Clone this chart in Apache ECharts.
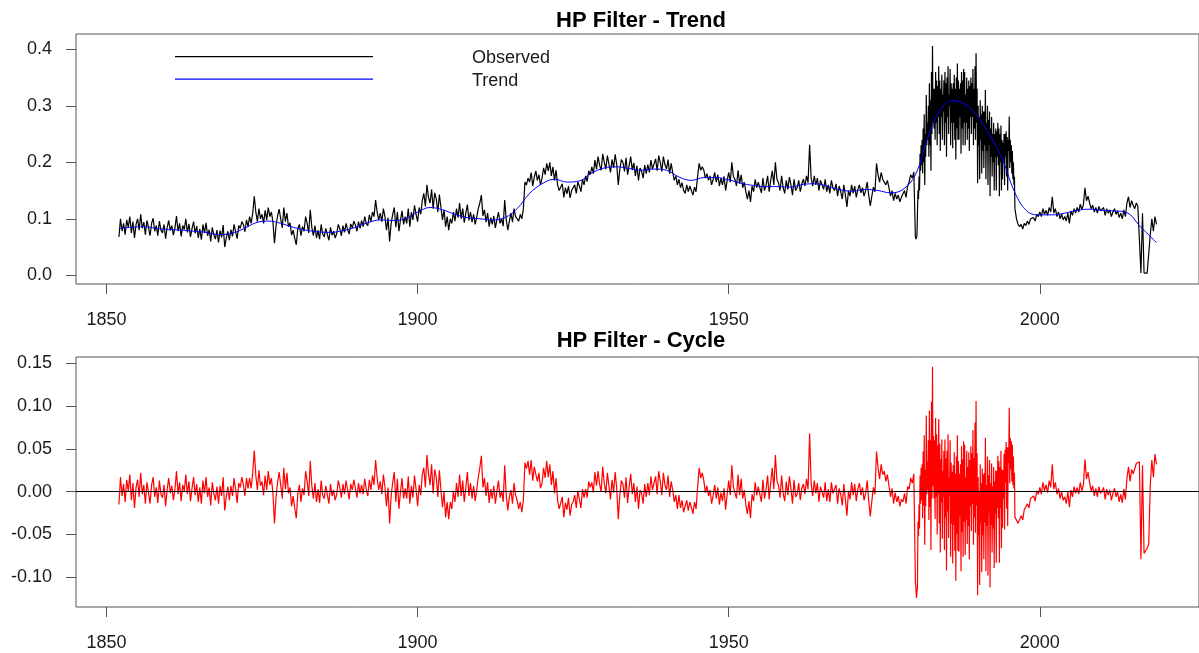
<!DOCTYPE html>
<html>
<head>
<meta charset="utf-8">
<title>HP Filter</title>
<script src="https://cdn.jsdelivr.net/npm/echarts@6/dist/echarts.min.js"></script>
<style>
  html, body { margin: 0; padding: 0; background: #fff; }
  #chart { width: 1199px; height: 653px; }
</style>
</head>
<body>
<div id="chart"></div>
<script>
// quarterly 1852-1979, monthly 1980-1995, quarterly 1996-2018
var earlyStart = 1852, earlyStep = 0.25
var midStart = 1980, midStep = 1 / 12
var lateStart = 1996, lateStep = 0.25

var observedEarly = [
  .068, .100, .078, .092, .072, .098, .085, .104, .075, .095, .066, .090,
  .100, .080, .108, .083, .094, .072, .097, .085, .070, .092, .101, .078,
  .088, .070, .096, .080, .075, .090, .065, .085, .097, .079, .088, .071,
  .084, .105, .078, .092, .069, .088, .081, .100, .076, .091, .068, .083,
  .095, .074, .087, .066, .082, .063, .090, .075, .093, .070, .081, .060,
  .085, .072, .064, .080, .058, .079, .067, .089, .050, .066, .078, .062,
  .081, .069, .090, .077, .065, .088, .083, .095, .090, .077, .098, .086,
  .104, .092, .110, .140, .112, .095, .118, .100, .108, .092, .115, .098,
  .120, .104, .112, .094, .057, .088, .105, .117, .100, .084, .120, .095,
  .110, .086, .093, .071, .080, .066, .054, .083, .090, .070, .086, .078,
  .104, .092, .075, .116, .085, .070, .088, .066, .080, .064, .090, .073,
  .068, .083, .072, .062, .085, .071, .078, .066, .074, .090, .082, .070,
  .088, .076, .092, .081, .073, .091, .084, .096, .089, .078, .095, .083,
  .097, .086, .104, .092, .088, .107, .095, .112, .104, .133, .112, .098,
  .110, .095, .118, .104, .080, .102, .060, .092, .108, .120, .085, .112,
  .078, .098, .114, .090, .104, .092, .118, .086, .112, .098, .124, .108,
  .095, .120, .108, .132, .145, .122, .160, .138, .128, .152, .118, .146,
  .135, .112, .143, .120, .098, .116, .086, .104, .080, .100, .092, .112,
  .096, .118, .102, .128, .100, .118, .093, .110, .125, .097, .112, .094,
  .108, .090, .103, .118, .128, .142, .105, .116, .094, .110, .086, .102,
  .090, .105, .084, .099, .112, .092, .100, .087, .133, .098, .080, .096,
  .110, .094, .118, .104, .104, .096, .108, .100, .118, .165, .160, .172,
  .165, .182, .158, .174, .185, .168, .178, .160, .172, .190, .178, .198,
  .185, .200, .176, .192, .168, .186, .160, .150, .148, .162, .138, .155,
  .144, .158, .137, .150, .152, .160, .145, .165, .158, .148, .170, .160,
  .176, .166, .185, .178, .192, .180, .204, .188, .210, .195, .186, .215,
  .200, .188, .212, .197, .182, .205, .190, .214, .196, .160, .188, .205,
  .200, .184, .208, .178, .195, .210, .186, .199, .176, .194, .168, .190,
  .184, .172, .195, .180, .196, .182, .204, .188, .190, .206, .185, .212,
  .200, .184, .210, .196, .188, .205, .180, .198, .182, .168, .176, .160,
  .170, .155, .164, .150, .145, .160, .148, .158, .150, .142, .156, .148,
  .175, .198, .186, .192, .186, .172, .180, .168, .176, .160, .170, .182,
  .165, .178, .158, .172, .160, .175, .150, .168, .182, .165, .200, .175,
  .170, .158, .186, .162, .178, .155, .165, .148, .135, .150, .130, .158,
  .148, .170, .155, .165, .162, .146, .172, .150, .160, .176, .148, .168,
  .185, .160, .200, .170, .164, .150, .176, .155, .145, .168, .152, .174,
  .160, .142, .170, .150, .155, .168, .148, .162, .170, .158, .176, .164,
  .231, .172, .158, .176, .160, .172, .150, .168, .165, .152, .170, .148,
  .160, .145, .168, .155, .150, .162, .140, .158, .148, .135, .160, .142,
  .121, .150, .140, .160, .145, .158, .138, .152, .160, .146, .155, .140,
  .150, .165, .142, .123, .140, .156, .148, .198, .178, .165, .182, .170,
  .172, .160, .168, .155, .140, .150, .132, .145, .135, .142, .130, .138,
  .140, .150, .138, .158, .165, .178, .172, .183
]

var observedMid = [
  .068, .064, .066, .070, .072, .150, .135, .175, .150, .215, .185, .230,
  .195, .240, .180, .260, .200, .285, .160, .250, .210, .319, .230, .270,
  .240, .300, .210, .340, .230, .310, .185, .360, .250, .406, .270, .330,
  .260, .330, .240, .360, .270, .345, .230, .335, .280, .370, .250, .345,
  .220, .330, .280, .355, .240, .320, .290, .345, .230, .360, .270, .340,
  .210, .350, .280, .370, .250, .320, .300, .365, .230, .340, .270, .330,
  .225, .340, .270, .355, .240, .330, .205, .350, .260, .375, .240, .345,
  .240, .330, .280, .340, .215, .360, .260, .345, .230, .365, .270, .360,
  .230, .320, .270, .350, .240, .330, .260, .345, .220, .335, .280, .350,
  .250, .340, .280, .365, .230, .330, .260, .370, .240, .393, .270, .330,
  .163, .300, .230, .280, .170, .310, .240, .285, .180, .300, .220, .290,
  .190, .290, .230, .328, .170, .270, .220, .300, .160, .275, .230, .290,
  .140, .260, .210, .280, .175, .250, .200, .270, .150, .250, .210, .260,
  .150, .255, .210, .270, .195, .260, .140, .250, .200, .265, .150, .240,
  .170, .235, .200, .250, .160, .250, .210, .255, .175, .245, .150, .240,
  .220, .281, .190, .240, .200, .230, .180, .220, .170, .200, .160, .175
]

var observedLate = [
  .118, .100, .090, .086, .090, .082, .092, .088, .096, .090, .100, .098,
  .102, .096, .108, .104, .112, .104, .118, .108, .115, .106, .120, .112,
  .139, .110, .118, .104, .112, .100, .108, .098, .104, .096, .110, .092,
  .114, .106, .118, .110, .120, .112, .126, .116, .125, .155, .132, .140,
  .128, .118, .124, .112, .120, .110, .122, .114, .112, .120, .106, .118,
  .110, .116, .104, .112, .118, .108, .114, .102, .110, .100, .116, .104,
  .128, .139, .120, .132, .124, .118, .128, .122, .120, .004, .110, .004,
  .003, .004, .006, .072, .100, .078, .104, .090
]

var trendYears = [
  1852, 1854, 1856, 1858, 1860, 1862, 1864, 1866, 1868, 1870, 1872, 1874, 1876, 1878,
  1880, 1882, 1884, 1886, 1888, 1890, 1892, 1894, 1896, 1898, 1900, 1902, 1904, 1906,
  1908, 1910, 1912, 1914, 1916, 1918, 1920, 1922, 1924, 1926, 1928, 1930, 1932, 1934,
  1936, 1938, 1940, 1942, 1944, 1946, 1948, 1950, 1952, 1954, 1956, 1958, 1960, 1962,
  1964, 1966, 1968, 1970, 1972, 1974, 1976, 1978, 1980, 1982, 1984, 1986, 1988, 1990,
  1992, 1994, 1996, 1998, 2000, 2002, 2004, 2006, 2008, 2010, 2012, 2014, 2016, 2018,
  2018.75
]
var trendValues = [
  .083, .085, .086, .083, .081, .080, .078, .076, .072, .074, .082, .093, .096, .092,
  .085, .080, .077, .076, .079, .085, .093, .098, .097, .100, .112, .120, .116, .108,
  .102, .100, .098, .102, .118, .145, .162, .170, .165, .167, .181, .190, .192, .189,
  .186, .188, .186, .174, .168, .173, .173, .169, .163, .159, .157, .157, .156, .161,
  .162, .157, .151, .149, .152, .150, .146, .152, .178, .243, .293, .309, .303, .281,
  .247, .205, .146, .113, .107, .107, .110, .115, .117, .115, .114, .111, .088, .066,
  .058
]

var cycleEarly = [
  -.015, .017, -.005, .009, -.012, .014, .001, .020, -.010, .010, -.019, .005,
  .014, -.006, .022, -.003, .008, -.014, .011, -.001, -.014, .008, .017, -.006,
  .005, -.013, .013, -.003, -.007, .008, -.017, .003, .016, -.002, .007, -.010,
  .003, .024, -.003, .011, -.011, .008, .001, .020, -.003, .012, -.011, .004,
  .017, -.004, .009, -.012, .005, -.014, .013, -.002, .017, -.006, .005, -.016,
  .011, -.002, -.010, .006, -.014, .007, -.005, .017, -.022, -.006, .006, -.010,
  .007, -.005, .016, .003, -.013, .010, .005, .017, .008, -.005, .016, .004,
  .016, .004, .022, .048, .019, .002, .025, .007, .012, -.004, .019, .002,
  .024, .008, .016, -.002, -.037, -.006, .011, .023, .008, -.008, .028, .003,
  .022, -.002, .005, -.017, -.005, -.019, -.031, -.002, .008, -.012, .004, -.004,
  .024, .012, -.005, .036, .007, -.008, .010, -.012, .003, -.013, .013, -.004,
  -.008, .007, -.004, -.014, .009, -.005, .002, -.010, -.003, .013, .005, -.007,
  .009, -.003, .013, .002, -.009, .009, .002, .014, .004, -.007, .010, -.002,
  .008, -.003, .015, .003, -.005, .014, .002, .019, .008, .037, .016, .002,
  .012, -.003, .020, .006, -.017, .005, -.037, -.005, .011, .023, -.012, .015,
  -.020, .000, .016, -.008, .004, -.008, .018, -.014, .007, -.007, .019, .003,
  -.017, .008, -.004, .020, .028, .005, .043, .021, .008, .032, -.002, .026,
  .017, -.006, .025, .002, -.018, .000, -.030, -.012, -.032, -.012, -.020, .000,
  -.012, .010, -.006, .020, -.005, .013, -.012, .005, .023, -.005, .010, -.008,
  .007, -.011, .002, .017, .028, .042, .005, .016, -.005, .011, -.013, .003,
  -.008, .007, -.014, .001, .013, -.007, .001, -.012, .031, -.004, -.022, -.006,
  .002, -.014, .010, -.004, -.010, -.020, -.012, -.024, -.010, .034, .027, .036,
  .020, .037, .013, .029, .029, .012, .022, .004, .010, .028, .016, .036,
  .017, .032, .008, .024, -.002, .016, -.010, -.020, -.020, -.006, -.030, -.013,
  -.021, -.007, -.028, -.015, -.012, -.004, -.019, .001, -.009, -.019, .003, -.007,
  .003, -.007, .012, .005, .011, -.001, .023, .007, .024, .009, .000, .029,
  .010, -.002, .022, .007, -.009, .014, -.001, .023, .004, -.032, -.004, .013,
  .009, -.007, .017, -.013, .006, .021, -.003, .010, -.012, .006, -.020, .002,
  -.002, -.014, .009, -.006, .010, -.004, .018, .002, .002, .018, -.003, .024,
  .012, -.004, .022, .008, .002, .019, -.006, .012, .002, -.012, -.004, -.020,
  -.004, -.019, -.010, -.024, -.025, -.010, -.022, -.012, -.018, -.026, -.012, -.020,
  .005, .028, .016, .022, .013, -.001, .007, -.005, .002, -.014, -.004, .008,
  -.008, .005, -.015, -.001, -.011, .004, -.021, -.003, .013, -.004, .031, .006,
  .004, -.008, .020, -.004, .015, -.008, .002, -.015, -.026, -.011, -.031, -.003,
  -.011, .011, -.004, .006, .004, -.012, .014, -.008, .003, .019, -.009, .011,
  .028, .003, .043, .013, .007, -.007, .019, -.002, -.011, .012, -.004, .018,
  .004, -.014, .014, -.006, -.003, .010, -.010, .004, .009, -.003, .015, .003,
  .068, .009, -.005, .013, -.002, .010, -.012, .006, .006, -.007, .011, -.011,
  .003, -.012, .011, -.002, -.004, .008, -.014, .004, -.003, -.016, .009, -.009,
  -.028, .001, -.009, .011, -.004, .009, -.011, .003, .010, -.004, .005, -.010,
  -.002, .013, -.010, -.029, -.011, .005, -.003, .047, .028, .015, .032, .020,
  .024, .012, .020, .007, -.006, .004, -.014, -.001, -.012, -.005, -.017, -.009,
  -.012, -.002, -.014, .006, .003, .016, .010, .021
]

var cycleMid = [
  -.105, -.113, -.124, -.117, -.112, -.035, -.052, -.015, -.043, .019, -.014, .028,
  -.010, .032, -.031, .047, -.016, .066, -.062, .026, -.017, .089, -.003, .035,
  .002, .060, -.033, .095, -.018, .060, -.068, .105, -.008, .146, .007, .065,
  -.008, .060, -.032, .086, -.006, .067, -.050, .054, -.003, .085, -.037, .056,
  -.071, .038, -.013, .061, -.055, .024, -.006, .048, -.068, .061, -.030, .039,
  -.092, .048, -.023, .067, -.054, .016, -.005, .060, -.076, .034, -.037, .023,
  -.084, .031, -.039, .046, -.069, .021, -.104, .041, -.049, .066, -.069, .036,
  -.070, .021, -.029, .032, -.093, .053, -.047, .038, -.076, .059, -.035, .055,
  -.074, .017, -.033, .048, -.061, .029, -.040, .046, -.079, .037, -.017, .053,
  -.046, .045, -.014, .072, -.062, .039, -.030, .081, -.048, .106, -.016, .045,
  -.121, .017, -.051, .000, -.109, .032, -.037, .010, -.094, .027, -.051, .020,
  -.079, .022, -.036, .063, -.093, .008, -.040, .041, -.098, .019, -.025, .037,
  -.112, .010, -.039, .033, -.071, .006, -.043, .029, -.089, .012, -.026, .025,
  -.083, .024, -.019, .042, -.031, .036, -.083, .029, -.019, .048, -.066, .026,
  -.042, .025, -.008, .044, -.044, .049, .011, .058, -.020, .052, -.040, .052,
  .034, .098, .010, .063, .026, .059, .012, .055, .008, .041, .004, .022
]

var cycleLate = [
  -.030, -.033, -.037, -.036, -.028, -.033, -.021, -.023, -.014, -.019, -.008, -.010,
  -.005, -.011, .001, -.003, .005, -.003, .011, .001, .008, -.001, .013, .005,
  .032, .003, .011, -.003, .004, -.008, .000, -.010, -.006, -.014, .000, -.018,
  .002, -.006, .006, -.002, .005, -.003, .011, .001, .008, .038, .015, .023,
  .011, .001, .007, -.005, .004, -.006, .006, -.002, -.003, .005, -.009, .003,
  -.004, .002, -.010, -.002, .004, -.006, .000, -.012, -.003, -.013, .003, -.009,
  .016, .029, .012, .026, .021, .019, .033, .031, .035, -.079, .031, -.072,
  -.070, -.066, -.061, .008, .037, .017, .044, .032
]

var xTicks = [1850, 1900, 1950, 2000]
var trendTicks = [0, 0.1, 0.2, 0.3, 0.4]
var cycleTicks = [-0.1, -0.05, 0, 0.05, 0.1, 0.15]

function toPairs(early, mid, late) {
    var out = []
    early.forEach(function(v, i) { out.push([earlyStart + i * earlyStep, v]) })
    mid.forEach(function(v, i) { out.push([midStart + i * midStep, v]) })
    late.forEach(function(v, i) { out.push([lateStart + i * lateStep, v]) })
    return out
}

var fontFamily = 'Liberation Sans, Arial, sans-serif'
var labelFont = {
    color: '#1a1a1a',
    fontSize: 18,
    fontFamily: fontFamily
}

function xAxisFor(gridIndex) {
    return {
        type: 'value',
        gridIndex: gridIndex,
        min: 1845.1,
        max: 2025.58,
        axisLine: { show: false, onZero: false },
        splitLine: { show: false },
        axisTick: {
            show: true,
            length: 10,
            customValues: xTicks,
            lineStyle: { color: '#555', width: 1 }
        },
        axisLabel: Object.assign({
            margin: 27,
            customValues: xTicks,
            formatter: function(v) { return String(Math.round(v)) }
        }, labelFont)
    }
}

function yAxisFor(gridIndex, min, max, ticks, digits) {
    return {
        type: 'value',
        gridIndex: gridIndex,
        min: min,
        max: max,
        axisLine: { show: false, onZero: false },
        splitLine: { show: false },
        axisTick: {
            show: true,
            length: 10,
            customValues: ticks,
            lineStyle: { color: '#555', width: 1 }
        },
        axisLabel: Object.assign({
            margin: 24,
            customValues: ticks,
            formatter: function(v) { return v.toFixed(digits) }
        }, labelFont)
    }
}

var chart = echarts.init(document.getElementById('chart'))

var options = {
    animation: false,
    backgroundColor: '#ffffff',
    grid: [
        { left: 76, top: 34, right: -8, height: 250, show: true, borderColor: '#555', borderWidth: 1 },
        { left: 76, top: 357, right: -8, height: 250, show: true, borderColor: '#555', borderWidth: 1 }
    ],
    xAxis: [xAxisFor(0), xAxisFor(1)],
    yAxis: [
        yAxisFor(0, -0.0154, 0.4271, trendTicks, 1),
        yAxisFor(1, -0.1347, 0.1574, cycleTicks, 2)
    ],
    graphic: [
        { type: 'text', x: 641, y: 21, style: { text: 'HP Filter - Trend', font: 'bold 22px ' + fontFamily, fill: '#000', textAlign: 'center', textVerticalAlign: 'middle' } },
        { type: 'text', x: 641, y: 341, style: { text: 'HP Filter - Cycle', font: 'bold 22px ' + fontFamily, fill: '#000', textAlign: 'center', textVerticalAlign: 'middle' } },
        { type: 'rect', shape: { x: 175, y: 56, width: 198, height: 1.2 }, style: { fill: '#000000' } },
        { type: 'rect', shape: { x: 175, y: 78.5, width: 198, height: 1.2 }, style: { fill: '#0000ff' } },
        { type: 'text', x: 472, y: 58, style: { text: 'Observed', font: '18px ' + fontFamily, fill: '#1a1a1a', textVerticalAlign: 'middle' } },
        { type: 'text', x: 472, y: 81, style: { text: 'Trend', font: '18px ' + fontFamily, fill: '#1a1a1a', textVerticalAlign: 'middle' } }
    ],
    series: [
        {
            name: 'Observed',
            type: 'line',
            xAxisIndex: 0,
            yAxisIndex: 0,
            data: toPairs(observedEarly, observedMid, observedLate),
            showSymbol: false,
            lineStyle: { color: '#000', width: 1.2 }
        },
        {
            name: 'Trend',
            type: 'line',
            xAxisIndex: 0,
            yAxisIndex: 0,
            data: trendYears.map(function(y, i) { return [y, trendValues[i]] }),
            showSymbol: false,
            smooth: 0.4,
            lineStyle: { color: '#0000ff', width: 1 }
        },
        {
            name: 'Cycle',
            type: 'line',
            xAxisIndex: 1,
            yAxisIndex: 1,
            data: toPairs(cycleEarly, cycleMid, cycleLate),
            showSymbol: false,
            lineStyle: { color: '#ff0000', width: 1.2 },
            markLine: {
                silent: true,
                symbol: ['none', 'none'],
                label: { show: false },
                lineStyle: { color: '#000', width: 1, type: 'solid' },
                data: [{ yAxis: 0 }]
            }
        }
    ]
}

chart.setOption(options, true)
</script>
</body>
</html>
